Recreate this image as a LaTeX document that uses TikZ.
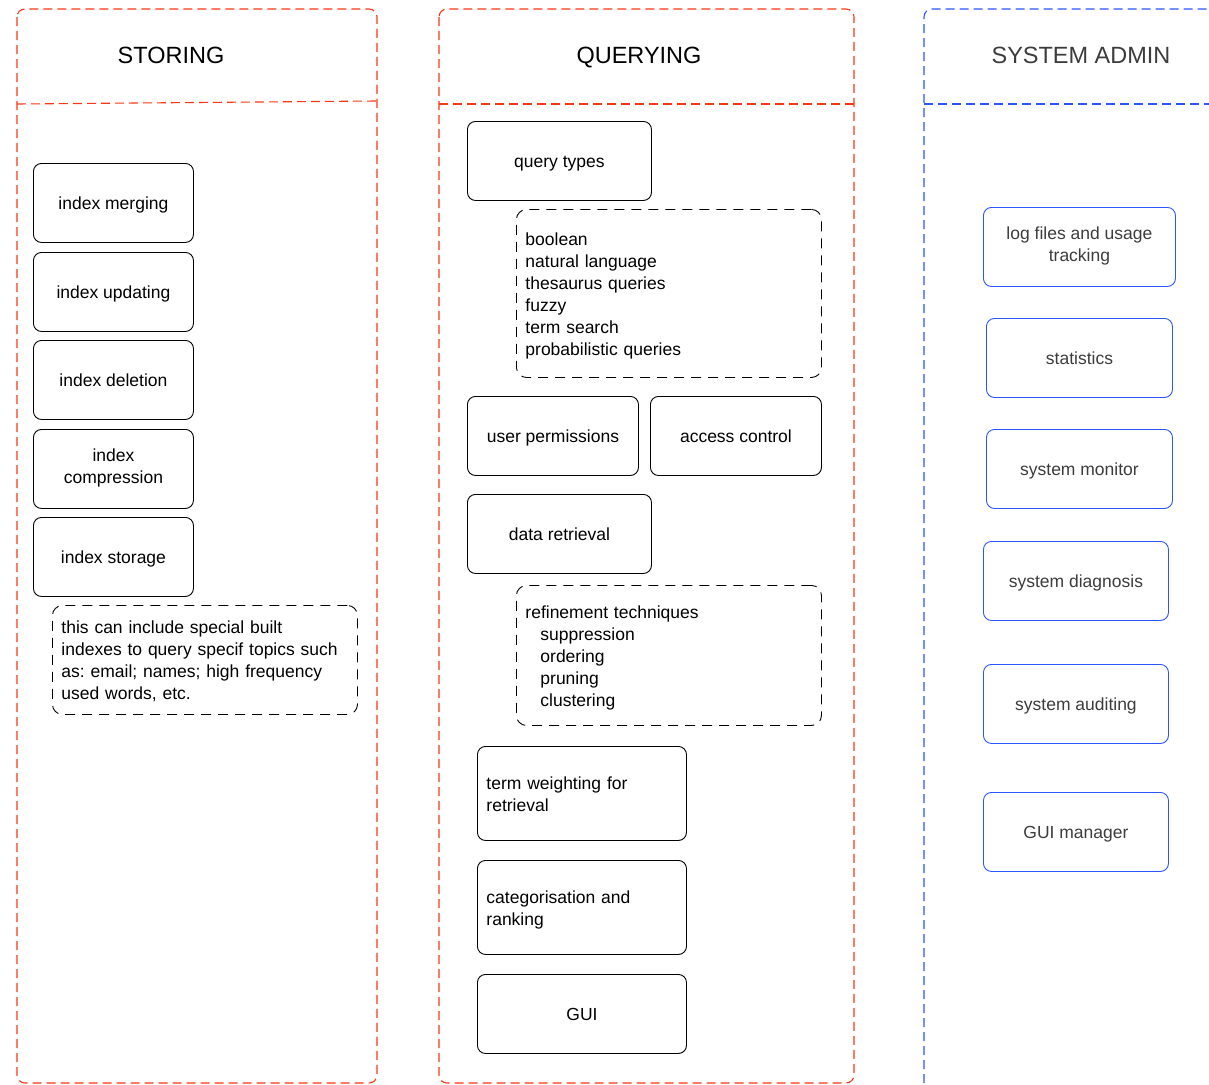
\documentclass[tikz,border=0pt]{standalone}
\usepackage{fontspec}
\setmainfont{Liberation Sans}
\frenchspacing
\newcommand\mytopstrut{\rule{0pt}{18.4pt}}
\newcommand\mybotstrut{\rule[-4.6pt]{0pt}{4.6pt}}
\begin{document}
\begin{tikzpicture}[x=1pt,y=-1pt,
  every node/.style={font=\fontsize{17.5}{22}\selectfont},
  lane/.style={draw=#1, dashed, dash pattern=on 9pt off 5pt, line width=1.1pt, rounded corners=8pt},
  sbox/.style={rounded corners=8pt, line width=0.9pt, anchor=north west, execute at begin node=\mytopstrut, execute at end node=\mybotstrut},
  box/.style={sbox, draw=black, align=center, inner sep=0pt},
  abox/.style={sbox, draw=admblue, align=center, inner sep=0pt, text=admtext},
  lbox/.style={sbox, draw=black, align=left, inner xsep=9pt, inner ysep=0pt},
  note/.style={sbox, draw=black, dashed, dash pattern=on 10pt off 7pt, rounded corners=10pt, align=left, inner xsep=9pt, inner ysep=0pt},
  head/.style={font=\fontsize{23.5}{28}\selectfont, anchor=base}
]
\definecolor{lanered}{RGB}{250,55,20}
\definecolor{admblue}{RGB}{45,85,255}
\definecolor{admtext}{RGB}{60,60,60}
\useasboundingbox (0,0) rectangle (1209,1084);

% lanes
\draw[lane=lanered] (17,9) rectangle (377,1083);
\draw[lane=lanered] (17,104) -- (377,101);
\node[head] (h1) at (171,63) {STORING};

\draw[lane=lanered] (439,9) rectangle (854,1083);
\draw[lane=lanered] (439,104) -- (854,104);
\node[head] (h2) at (639,63) {QUERYING};

\draw[lane=admblue] (924,1083) -- (924,9) -- (1260,9);
\draw[lane=admblue] (924,104) -- (1209,104);
\node[head, text=admtext] (h3) at (1081,63) {SYSTEM ADMIN};

% STORING
\node[box, minimum width=160pt, minimum height=79pt] (s1) at (33,163) {index merging};
\node[box, minimum width=160pt, minimum height=79pt] (s2) at (33,252) {index updating};
\node[box, minimum width=160pt, minimum height=79pt] (s3) at (33,340) {index deletion};
\node[box, minimum width=160pt, minimum height=79pt] (s4) at (33,429) {index\\compression};
\node[box, minimum width=160pt, minimum height=79pt] (s5) at (33,517) {index storage};
\node[note, text width=287pt, minimum height=109pt] (sn) at (52,605) {this can include special built\\indexes to query specif topics such\\as: email; names; high frequency\\used words, etc.};

% QUERYING
\node[box, minimum width=184pt, minimum height=79pt] (q1) at (467,121) {query types};
\node[note, text width=287pt, minimum height=168pt] (qn1) at (516,209) {boolean\\natural language\\thesaurus queries\\fuzzy\\term search\\probabilistic queries};
\node[box, minimum width=171pt, minimum height=79pt] (q2) at (467,396) {user permissions};
\node[box, minimum width=171pt, minimum height=79pt] (q3) at (650,396) {access control};
\node[box, minimum width=184pt, minimum height=79pt] (q4) at (467,494) {data retrieval};
\node[note, text width=287pt, minimum height=140pt] (qn2) at (516,585) {refinement techniques\\\hspace*{15pt}suppression\\\hspace*{15pt}ordering\\\hspace*{15pt}pruning\\\hspace*{15pt}clustering};
\node[lbox, text width=191pt, minimum height=94pt] (q5) at (477,746) {term weighting for\\retrieval};
\node[lbox, text width=191pt, minimum height=94pt] (q6) at (477,860) {categorisation and\\ranking};
\node[box, minimum width=209pt, minimum height=79pt] (q7) at (477,974) {GUI};

% SYSTEM ADMIN
\node[abox, minimum width=192pt, minimum height=79pt] (a1) at (983,207) {log files and usage\\tracking};
\node[abox, minimum width=186pt, minimum height=79pt] (a2) at (986,318) {statistics};
\node[abox, minimum width=186pt, minimum height=79pt] (a3) at (986,429) {system monitor};
\node[abox, minimum width=185pt, minimum height=79pt] (a4) at (983,541) {system diagnosis};
\node[abox, minimum width=185pt, minimum height=79pt] (a5) at (983,664) {system auditing};
\node[abox, minimum width=185pt, minimum height=79pt] (a6) at (983,792) {GUI manager};
\end{tikzpicture}
\end{document}
